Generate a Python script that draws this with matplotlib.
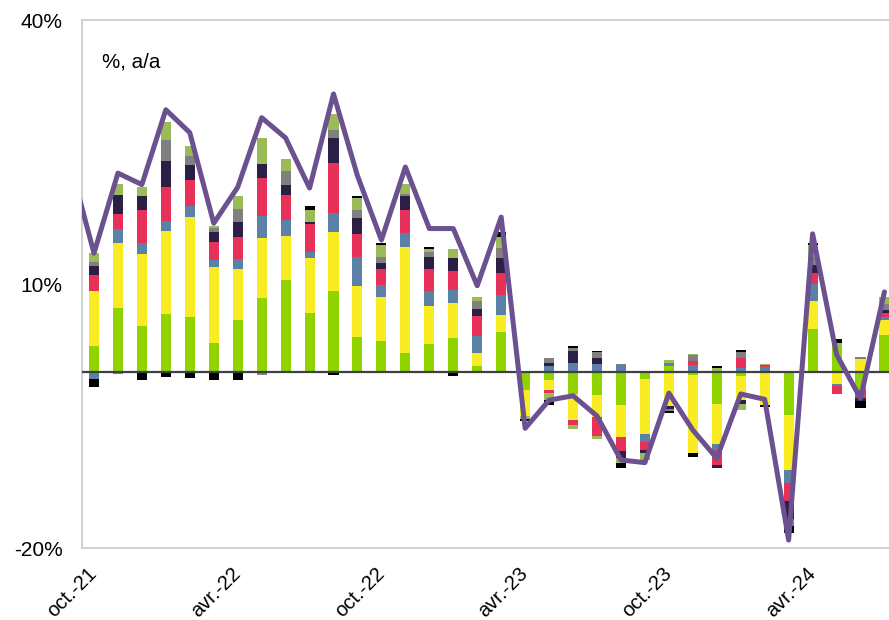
import numpy as np
import matplotlib
matplotlib.use("Agg")
import matplotlib.pyplot as plt

plt.rcParams['font.family'] = ['Liberation Sans', 'DejaVu Sans']

# mois : oct.-21 ... juil.-24
mois = ["oct.-21", "nov.-21", "déc.-21", "janv.-22", "févr.-22", "mars-22",
        "avr.-22", "mai-22", "juin-22", "juil.-22", "août-22", "sept.-22",
        "oct.-22", "nov.-22", "déc.-22", "janv.-23", "févr.-23", "mars-23",
        "avr.-23", "mai-23", "juin-23", "juil.-23", "août-23", "sept.-23",
        "oct.-23", "nov.-23", "déc.-23", "janv.-24", "févr.-24", "mars-24",
        "avr.-24", "mai-24", "juin-24", "juil.-24"]

# contributions (points de %)
vert = [2.9, 7.3, 5.2, 6.55, 6.2, 3.3, 5.9, 8.4, 10.4, 6.7, 9.2, 4.0,
        3.5, 2.2, 3.2, 3.9, 0.68, 4.6, -2.1, -0.95, -2.46, -2.58, -3.7, -0.75,
        0.68, -0.34, -3.6, -0.5, 0.0, -4.85, 4.85, 2.7, -2.0, 4.25]
jaune = [6.25, 7.4, 8.2, 9.5, 11.4, 8.6, 5.75, 6.8, 5.1, 6.25, 6.75, 5.75,
         5.0, 12.05, 4.3, 3.9, 1.5, 1.9, -2.9, -1.14, -2.95, -2.54, -3.67, -6.25,
         -3.86, -8.9, -4.55, -2.7, -3.7, -6.25, 3.2, -1.33, 1.5, 1.7]
bleu = [-0.75, 1.6, 1.25, 1.1, 1.25, 0.8, 1.2, 2.5, 1.75, 0.65, 2.15, 3.3,
        1.36, 1.5, 1.75, 1.55, 1.86, 2.3, 0.0, 0.68, 1.0, 0.95, 0.83, -1.0,
        0.3, 0.8, -0.76, 0.4, 0.57, -1.5, 2.0, -0.3, 0.0, 0.3]
rouge = [1.9, 1.6, 3.8, 3.9, 3.0, 2.1, 2.5, 4.35, 2.85, 3.2, 5.65, 2.65,
         1.8, 2.65, 2.5, 2.16, 2.27, 2.5, 0.0, -0.27, -0.57, -2.12, -1.6, -0.87,
         0.0, 0.45, -1.7, 1.2, 0.27, -2.1, 1.2, -0.83, -1.0, 0.45]
marine = [1.0, 2.2, 1.6, 2.95, 1.7, 1.1, 1.7, 1.6, 1.2, 0.27, 2.8, 1.8,
          0.76, 1.55, 1.33, 1.5, 0.9, 1.7, 0.0, 0.3, 1.44, 0.68, -0.8, -0.38,
          -0.38, 0.0, -0.3, -0.4, 0.0, -2.0, 0.87, 0.0, -0.3, 0.3]
gris = [0.5, -0.2, 0.0, 2.4, 1.0, 0.5, 1.5, -0.3, 1.5, 0.0, 1.0, 0.87,
        0.68, 0.23, 0.6, 0.0, 0.9, 1.14, 0.0, 0.57, 0.34, 0.6, 0.1, 0.0,
        -0.19, 0.64, 0.0, 0.7, 0.0, -0.8, 1.0, 0.0, 0.2, 0.75]
olive = [0.95, 1.25, 1.0, 2.0, 1.1, 0.2, 1.5, 2.9, 1.45, 1.3, 1.8, 1.4,
         1.3, 1.14, 0.27, 0.95, 0.45, 1.25, -0.3, -0.8, -0.49, -0.38, -0.57, -0.76,
         0.38, 0.2, 0.5, -0.75, 0.11, 0.0, 1.3, 0.57, 0.0, 0.75]
noir = [-0.9, 0.0, -0.95, -0.57, -0.68, -0.95, -0.95, 0.0, 0.0, 0.45, -0.3, 0.19,
        0.27, 0.0, 0.3, -0.45, 0.0, 0.57, -0.3, -0.6, 0.23, 0.15, -0.57, 0.0,
        -0.27, -0.38, 0.19, 0.2, -0.27, -0.8, 0.2, 0.45, -0.8, 0.0]

# total (%, a/a), commence en sept.-21
total = [23.8, 13.5, 22.6, 21.3, 29.8, 27.2, 16.9, 21.0, 28.9, 26.6, 20.9, 31.6,
         22.3, 15.0, 23.3, 16.3, 16.3, 9.8, 17.6, -6.4, -3.2, -2.7, -5.0, -10.0,
         -10.3, -2.4, -6.6, -9.8, -2.5, -3.1, -19.1, 15.7, 2.0, -3.0, 9.1]

series = [vert, jaune, bleu, rouge, marine, gris, olive, noir]
couleurs = ["#8fd400", "#f9ec23", "#5b82a6", "#e83158", "#2b1f45",
            "#808080", "#9bbb59", "#000000"]

fig = plt.figure(figsize=(8.89, 6.2), dpi=100)
ax = fig.add_axes([82 / 889, 72 / 620, 807 / 889, 528 / 620])

x = np.arange(len(mois))
bas_pos = np.zeros(len(mois))
bas_neg = np.zeros(len(mois))
for vals, c in zip(series, couleurs):
    v = np.array(vals)
    pos = np.where(v > 0, v, 0)
    neg = np.where(v < 0, v, 0)
    ax.bar(x, pos, 0.42, bottom=bas_pos, color=c, zorder=2)
    ax.bar(x, neg, 0.42, bottom=bas_neg, color=c, zorder=2)
    bas_pos += pos
    bas_neg += neg

ax.axhline(0, color="#404040", lw=1.6, zorder=3)
ax.plot(np.arange(-1, len(mois)), total, color="#6b5190", lw=3.6,
        solid_joinstyle="round", solid_capstyle="round", zorder=4)

ax.set_xlim(-0.5, 33.19)
ax.set_ylim(-20, 40)
ax.set_yticks([-20, 10, 40])
ax.set_yticklabels(["-20%", "10%", "40%"])
ax.set_xticks(x[::6])
ax.set_xticklabels(mois[::6], rotation=45, ha="right", va="center",
                   rotation_mode="anchor")
ax.tick_params(axis="y", length=0, pad=14, labelsize=15)
ax.tick_params(axis="x", length=0, pad=16, labelsize=14.5)

for s in ["left", "top", "bottom"]:
    ax.spines[s].set_color("#c8c8c8")
    ax.spines[s].set_linewidth(1.2)
ax.spines["right"].set_visible(False)

fig.text(102 / 889, 1 - 62 / 620, "%, a/a", fontsize=14.8, va="center")

fig.savefig("out.png", dpi=100)
